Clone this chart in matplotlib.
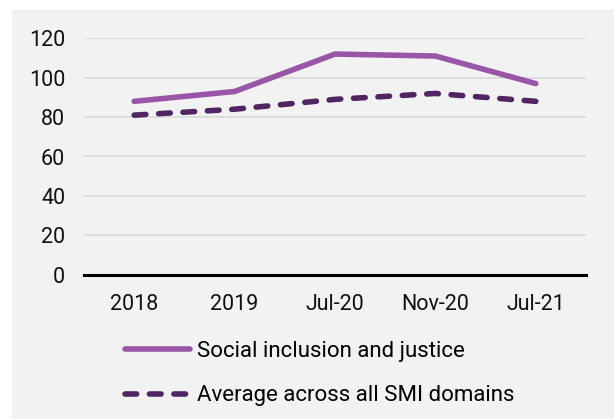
import matplotlib.pyplot as plt
from matplotlib.patches import Rectangle

plt.rcParams['font.family'] = ['Roboto', 'DejaVu Sans']

periods = ["2018", "2019", "Jul-20", "Nov-20", "Jul-21"]
social_inclusion = [88, 93, 112, 111, 97]
smi_average = [81, 84, 89, 92, 88]

W, H = 614, 419
fig = plt.figure(figsize=(W / 100, H / 100), dpi=100)
fig.patch.set_facecolor("white")
# grey panel behind the chart
fig.patches.append(Rectangle((12 / W, 0), 1, 1 - 10 / H, transform=fig.transFigure,
                             facecolor="#f2f2f2", edgecolor="none", zorder=-5))

ax = fig.add_axes([84 / W, 1 - 274.7 / H, 502 / W, 236.4 / H])
ax.set_facecolor("none")

x = range(len(periods))
ax.plot(x, social_inclusion, color="#9a56a6", lw=4, solid_capstyle="round",
        label="Social inclusion and justice", zorder=3)
ax.plot(x, smi_average, color="#4f2562", lw=4, dashes=(2.1, 2.3), dash_capstyle="round",
        label="Average across all SMI domains", zorder=3)

ax.set_xlim(-0.5, 4.5)
ax.set_ylim(0, 120)
ax.set_yticks(range(0, 121, 20))
ax.set_xticks(list(x))
ax.set_xticklabels(periods)
ax.grid(axis="y", color="#d9d9d9", lw=1.2)
ax.set_axisbelow(True)
for s in ["top", "right", "left"]:
    ax.spines[s].set_visible(False)
ax.spines["bottom"].set_color("black")
ax.spines["bottom"].set_linewidth(2.2)
ax.spines["bottom"].set_zorder(4)
ax.tick_params(length=0, labelsize=15.5, colors="#111111")
ax.tick_params(axis="x", pad=14)
ax.tick_params(axis="y", pad=13.5)

fig.legend(loc="upper left", bbox_to_anchor=(124.5 / W, 1 - 341 / H), frameon=False,
           fontsize=16, handlelength=2.95, handletextpad=0.3, labelspacing=1.05,
           borderaxespad=0, borderpad=0)

fig.savefig("out.png", dpi=100, facecolor="white")
